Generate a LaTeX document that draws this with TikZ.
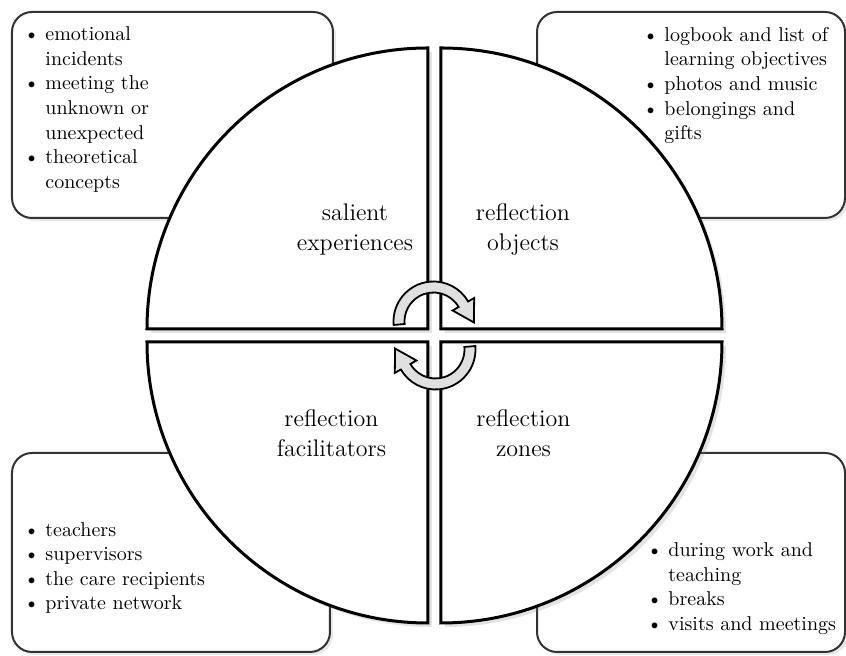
\documentclass[tikz,border=0pt]{standalone}
\usepackage{tikz}
\usetikzlibrary{shadows,calc}

\newcommand{\bul}{\textbullet}

\begin{document}
\begin{tikzpicture}[x=0.5pt,y=0.5pt,
                    infobox/.style={draw=black!80,line width=1pt,fill=white,
                      rounded corners=10pt,inner sep=0pt,outer sep=0pt,
                      drop shadow={opacity=0.18,shadow xshift=1.5pt,shadow yshift=-1.5pt}},
                    quarter/.style={draw=black,line width=1.5pt,fill=white,
                      drop shadow={opacity=0.22,shadow xshift=2pt,shadow yshift=-2pt}},
                    turn/.style={draw=black,line width=0.9pt,fill=black!12,line join=miter},
                    items/.style={inner sep=0pt,font=\fontsize{10}{12.3}\selectfont},
                    part/.style={align=center,inner sep=0pt,font=\fontsize{12}{15}\selectfont}]
  \useasboundingbox (-434.5,-320.5) rectangle (411.5,335.5);

  % boxes behind the circle
  \node[infobox,minimum width=160.5pt,minimum height=103pt]   (tlbox) at (-262,220.5)  {};
  \node[infobox,minimum width=154pt,minimum height=103pt]     (trbox) at (256.5,220.5) {};
  \node[infobox,minimum width=159pt,minimum height=99.5pt]    (blbox) at (-263.5,-217) {};
  \node[infobox,minimum width=154pt,minimum height=99.5pt]    (brbox) at (256.5,-217)  {};

  % the four quarters
  \path[quarter] (-6.5,6.5) -- (-287.5,6.5) arc[start angle=180,end angle=90,radius=281] -- cycle;
  \path[quarter] (6.5,6.5) -- (6.5,287.5) arc[start angle=90,end angle=0,radius=281] -- cycle;
  \path[quarter] (-6.5,-6.5) -- (-6.5,-287.5) arc[start angle=270,end angle=180,radius=281] -- cycle;
  \path[quarter] (6.5,-6.5) -- (287.5,-6.5) arc[start angle=0,end angle=-90,radius=281] -- cycle;

  \node[part] (salient)  at (-79.5,105.5) {salient\\experiences};
  \node[part] (objects)  at (88.5,105.5)  {reflection\\objects};
  \node[part] (facil)    at (-103,-97.5)  {reflection\\facilitators};
  \node[part] (zones)    at (89,-97.5)    {reflection\\zones};

  % lists
  \node[items,anchor=west] (tllist) at (-411,226) {\begin{tabular}{@{}l@{\hspace{3pt}}l@{}}
    \bul & emotional\\ & incidents\\
    \bul & meeting the\\ & unknown or\\ & unexpected\\
    \bul & theoretical\\ & concepts\end{tabular}};
  \node[items,anchor=west] (trlist) at (208,250) {\begin{tabular}{@{}l@{\hspace{3pt}}l@{}}
    \bul & logbook and list of\\ & learning objectives\\
    \bul & photos and music\\
    \bul & belongings and\\ & gifts\end{tabular}};
  \node[items,anchor=west] (bllist) at (-411,-232.5) {\begin{tabular}{@{}l@{\hspace{3pt}}l@{}}
    \bul & teachers\\
    \bul & supervisors\\
    \bul & the care recipients\\
    \bul & private network\end{tabular}};
  \node[items,anchor=west] (brlist) at (212,-253) {\begin{tabular}{@{}l@{\hspace{3pt}}l@{}}
    \bul & during work and\\ & teaching\\
    \bul & breaks\\
    \bul & visits and meetings\end{tabular}};

  % turning arrows in the middle
  \begin{scope}[shift={(-1,14)}]
    \path[turn] (185:40) arc[start angle=185,end angle=30,radius=40]
      -- (30:47) -- ($(30:34.5)+(-60:21)$) -- (30:22) -- (30:29)
      arc[start angle=30,end angle=185,radius=29] -- cycle;
  \end{scope}
  \begin{scope}[rotate=180,shift={(-1,14)}]
    \path[turn] (185:40) arc[start angle=185,end angle=30,radius=40]
      -- (30:47) -- ($(30:34.5)+(-60:21)$) -- (30:22) -- (30:29)
      arc[start angle=30,end angle=185,radius=29] -- cycle;
  \end{scope}
\end{tikzpicture}
\end{document}
